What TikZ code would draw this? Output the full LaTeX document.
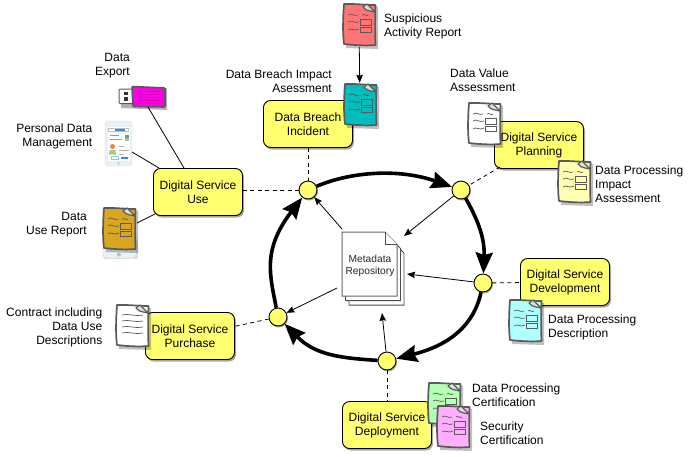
\documentclass[tikz,border=0pt]{standalone}
\usepackage{fontspec}
\setmainfont{Liberation Sans}
\usetikzlibrary{arrows.meta,shadows,calc}
\definecolor{boxy}{HTML}{FFFF70}
\definecolor{inkg}{HTML}{5A5A5A}
\definecolor{docred}{HTML}{FF7575}
\definecolor{docteal}{HTML}{00BEBE}
\definecolor{docyellow}{HTML}{FFFFB4}
\definecolor{doccyan}{HTML}{AFFFFF}
\definecolor{docgreen}{HTML}{B4FFB4}
\definecolor{docpink}{HTML}{FFAFFF}
\definecolor{docgold}{HTML}{DAA520}
\definecolor{usbpink}{HTML}{FF00E6}
\definecolor{phonebg}{HTML}{E8F3F7}
\definecolor{phoneblue}{HTML}{2E8BF0}
\definecolor{phonegreen}{HTML}{4FB84F}
\definecolor{skin}{HTML}{E8814A}
\definecolor{shirt}{HTML}{A8CF7A}
\tikzset{
  stage/.style={draw=black,line width=0.9pt,fill=boxy,rounded corners=7pt,minimum width=89pt,minimum height=47pt,
     align=center,inner sep=0pt,font=\fontsize{12}{14}\selectfont,
     drop shadow={shadow xshift=1.5pt,shadow yshift=-2pt,opacity=.35,fill=black}},
  hub/.style={circle,draw=black,line width=0.9pt,fill=boxy,minimum size=18pt,inner sep=0pt,
     drop shadow={shadow xshift=1pt,shadow yshift=-1.5pt,opacity=.35,fill=black}},
  lab/.style={inner sep=0pt,font=\fontsize{12}{14}\selectfont},
  labl/.style={lab,anchor=west,align=left},
  labr/.style={lab,anchor=east,align=right},
  flow/.style={line width=3.6pt,-{Stealth[length=21pt,width=17pt,inset=2.5pt]}},
  feed/.style={line width=0.8pt,-{Stealth[length=8pt,width=6.5pt,inset=1pt]}},
  link/.style={line width=0.8pt},
  tie/.style={line width=0.8pt,dash pattern=on 4pt off 3.5pt},
  iconbox/.style={minimum width=34pt,minimum height=44pt,inner sep=0pt},
  ink/.style={draw=inkg,line width=0.7pt},
}
% name, x, y, fill, kind (1 = squiggles and boxes, 0 = text lines)
\newcommand{\noteicon}[5]{%
  \node[iconbox] (#1) at (#2,#3) {};
  \begin{scope}[shift={(#2,#3)}]
    \fill[black,opacity=.25] (-14,-19) -- (19,-18) -- (19,24) -- (-13,23) -- cycle;
    \draw[draw=inkg,line width=1.7pt,line join=round,fill=#4]
      (-15,-21) .. controls (-6,-21.5) and (6,-20) .. (16.5,-20)
      .. controls (16,-8) and (16,8) .. (16.5,20)
      .. controls (6,21) and (-6,20) .. (-15,19)
      .. controls (-16.5,8) and (-16,-8) .. (-15,-21) -- cycle;
    \draw[draw=inkg,line width=1.2pt,fill=white!75!gray,line join=round]
      (4,-18) -- (8,-21) -- (16,-13) -- (11,-14) .. controls (8,-14) and (6,-16) .. (4,-18) -- cycle;
    \ifnum#5=1
      \draw[ink] (-11,-10) .. controls (-8,-13) and (-5,-8) .. (-1,-10);
      \draw[ink] (3,-10) .. controls (5,-12) and (7,-8) .. (9,-10);
      \draw[ink] (-11,-3) .. controls (-8,-6) and (-5,-1) .. (0,-3);
      \draw[ink] (-11,5) .. controls (-8,2) and (-5,7) .. (0,4);
      \draw[ink] (1.5,-6) rectangle (12.5,0);
      \draw[ink] (1.5,2) rectangle (12.5,7.5);
    \else
      \foreach \yy in {-11,-5,1,7}{
        \draw[ink] (-10,\yy) .. controls (-4,\yy-2) and (4,\yy+2) .. (11,\yy);
      }
    \fi
  \end{scope}
}
\begin{document}
\begin{tikzpicture}[x=1pt,y=-1pt]
\fill[white] (0,0) rectangle (689,456);
\useasboundingbox (0,0) rectangle (689,456);

% cycle hubs
\node[hub] (c1) at (308,190) {};
\node[hub] (c2) at (461,190) {};
\node[hub] (c3) at (483,283) {};
\node[hub] (c4) at (387,361) {};
\node[hub] (c5) at (278,317) {};

% stages
\node[stage] (use)   at (198,192) {Digital Service\\Use};
\node[stage] (breach) at (308,124) {Data Breach\\Incident};
\node[stage] (plan)  at (539,145) {Digital Service\\Planning};
\node[stage] (dev)   at (565,282) {Digital Service\\Development};
\node[stage] (deploy) at (387,425) {Digital Service\\Deployment};
\node[stage] (buy)   at (190,336) {Digital Service\\Purchase};

% cycle
\draw[flow] (c1) .. controls (350,172) and (398,168) .. (c2);
\draw[flow] (c2) .. controls (475,215) and (485,235) .. (c3);
\draw[flow] (c3) .. controls (474,325) and (450,345) .. (c4);
\draw[flow] (c4) .. controls (340,358) and (315,355) .. (c5);
\draw[flow] (c5) .. controls (270,275) and (262,250) .. (c1);

% dashed ties
\draw[tie] (use.east |- c1) -- (c1);
\draw[tie] (breach) -- (c1);
\coordinate (planfoot) at (500,167);
\draw[tie] (planfoot) -- (c2);
\draw[tie] (c3) -- (dev);
\draw[tie] (c4) -- (deploy);
\draw[tie] (c5) -- (buy);

% metadata stack
\coordinate (m1) at (342,229);
\coordinate (m2) at (404,236);
\coordinate (m3) at (407,274);
\coordinate (m4) at (382,313);
\coordinate (m5) at (337,288);
\foreach \dd in {7,3.5}{
  \draw[draw=black!70,line width=0.9pt,fill=white,shift={(\dd,\dd*1.3)}]
    (342,232) -- (385,232) -- (397,244) -- (397,296) -- (342,296) -- cycle;
}
\draw[draw=black!60,line width=1pt,fill=white]
  (342,232) -- (385,232) -- (397,244) -- (397,296) -- (342,296) -- cycle;
\draw[black!70,line width=0.7pt,fill=white] (385,232) -- (385,244) -- (397,244);
\node[inner sep=0pt,align=center,font=\fontsize{10.2}{12}\selectfont,text=black!85] (meta) at (370,265.5) {Metadata\\Repository};

% feeds
\draw[feed] (m1) -- (c1);
\draw[feed] (c2) -- (m2);
\draw[feed] (c3) -- (m3);
\draw[feed] (c4) -- (m4);
\draw[feed] (m5) -- (c5);

% documents
\noteicon{rep}{359}{25}{docred}{1}
\noteicon{imp}{360}{105}{docteal}{1}
\noteicon{val}{484}{124}{white}{1}
\noteicon{dpi}{574}{182}{docyellow}{1}
\noteicon{dpd}{525}{321}{doccyan}{1}
\noteicon{dpc}{444}{404}{docgreen}{1}
\noteicon{sec}{453}{427}{docpink}{1}
\noteicon{con}{132}{326}{white}{0}

% phone-backed report
\fill[black,opacity=.12] (104,240) rectangle (138,259);
\draw[phonebg!85!black,fill=phonebg,rounded corners=3pt] (103,230) rectangle (136,258);
\fill[black!25] (119,254.5) circle (2);
\noteicon{rpt}{119}{229}{docgold}{1}

% phone
\node[minimum width=27pt,minimum height=45pt,inner sep=0pt] (phone) at (118.5,143.5) {};
\begin{scope}[shift={(118.5,143.5)}]
  \draw[phonebg!90!black,fill=phonebg,rounded corners=3.5pt] (-13.5,-22.5) rectangle (13.5,22.5);
  \fill[white] (-11,-17) rectangle (11,17);
  \fill[phoneblue] (-4,-15) rectangle (6,-13);
  \draw[black!25,line width=0.3pt] (-10,-15.5) rectangle (10,-12.5);
  \draw[black!40,line width=0.3pt] (-9,-8) -- (0,-8) (-9,-4.5) -- (3,-4.5);
  \fill[phonegreen] (6,-9) rectangle (10,-6);
  \fill[black!30] (6,-5.5) rectangle (10,-3);
  \fill[skin] (-6,3) circle (2.5);
  \fill[shirt] (-9.5,11) -- (-9,6.5) -- (-3,6.5) -- (-2.5,11) -- cycle;
  \draw[black!30,line width=0.4pt] (0,3) -- (5,3) (0,6.5) -- (10,6.5) (0,10.5) -- (5,10.5);
  \draw[phoneblue!50,line width=0.3pt] (-7,13) rectangle (0,15.5);
  \fill[phoneblue] (2,13) rectangle (9,15.5);
  \fill[black!20] (0,19.5) circle (1.5);
\end{scope}

% usb
\node[minimum width=47pt,minimum height=22pt,inner sep=0pt] (usb) at (141.5,97) {};
\begin{scope}
  \fill[black,opacity=.3] (121,91) -- (167,88) -- (167,110) -- (121,108) -- cycle;
  \draw[inkg,line width=1pt,fill=white,rounded corners=1pt] (119,89) rectangle (133,103.5);
  \fill[black!80] (124,91.5) rectangle (128,95);
  \fill[black!80] (124,97) rectangle (128,100.5);
  \draw[draw=inkg,line width=1.6pt,fill=usbpink,rounded corners=1pt] (132,86.5) -- (165,88) -- (165,107) -- (133,106.5) -- cycle;
  \foreach \yy in {91,94,97,100,103}{
    \draw[usbpink!65!black,line width=0.5pt] (138,\yy) -- (160,\yy+.5);
  }
\end{scope}

% icon links
\coordinate (usbfoot) at (148,107);
\coordinate (usetop) at (184,168);
\coordinate (phonefoot) at (132,152);
\coordinate (usecorner) at (159,168);
\coordinate (rptfoot) at (137,223);
\coordinate (useleft) at (155,214);
\draw[link] (usbfoot) -- (usetop);
\draw[link] (phonefoot) -- (usecorner);
\draw[link] (rptfoot) -- (useleft);
\draw[feed] (rep) -- (imp);

% labels
\node[labr] (t1) at (130,65.7) {Data\\Export};
\node[labr] (t2) at (92.5,136.5) {Personal Data\\Management};
\node[labr] (t3) at (87,224.5) {Data\\Use Report};
\node[labr] (t4) at (332,81.5) {Data Breach Impact\\Asessment};
\node[labl] (t5) at (384,26.5) {Suspicious\\Activity Report};
\node[labl] (t6) at (450,80.5) {Data Value\\Assessment};
\node[labl] (t7) at (595,184.5) {Data Processing\\Impact\\Assessment};
\node[labl] (t8) at (548,327.5) {Data Processing\\Description};
\node[labl] (t9) at (472,395.5) {Data Processing\\Certification};
\node[labl] (t10) at (480,433.5) {Security\\Certification};
\node[labr] (t11) at (102.5,327.5) {Contract including\\Data Use\\Descriptions};
\end{tikzpicture}
\end{document}
